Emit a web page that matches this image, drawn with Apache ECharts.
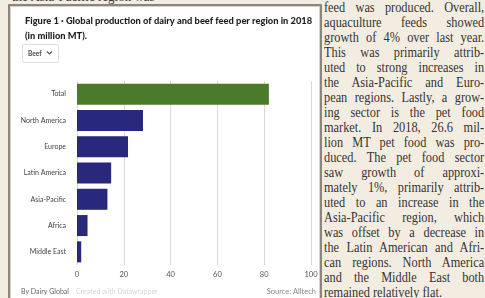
<!DOCTYPE html>
<html>
<head>
<meta charset="utf-8">
<script src="https://cdn.jsdelivr.net/npm/echarts@6/dist/echarts.min.js"></script>
<style>
  html, body { margin:0; padding:0; width:485px; height:298px; overflow:hidden; background:#f3ede1; }
  #page { position:absolute; left:0; top:0; width:485px; height:298px; }
  .serif { font-family:"Liberation Serif","DejaVu Serif",serif; color:#333; }
  #topline { position:absolute; left:12px; top:-11px; width:300px; font-size:13px; }
  #col { position:absolute; left:324px; top:0px; width:182px; line-height:15px; font-size:14px;
         transform: scaleX(0.88); transform-origin: 0 0; }
  #col div { height:15px; white-space:nowrap; text-align:justify; text-align-last:justify; }
  #col div.last { text-align-last:left; }
  #box { position:absolute; left:8px; top:4px; width:310px; height:320px; background:#fff;
         border:2px solid #8d847c; box-shadow: inset 0 0 0 1px #d8d2cb; }
  #chart { position:absolute; left:0; top:0; width:485px; height:298px; }
</style>
</head>
<body>
<div id="page">
  <div id="topline" class="serif">the Asia-Pacific region was</div>
  <div id="box"></div>
  <div id="col" class="serif">
    <div>feed was produced. Overall,</div>
    <div>aquaculture feeds showed</div>
    <div>growth of 4% over last year.</div>
    <div>This was primarily attrib-</div>
    <div>uted to strong increases in</div>
    <div>the Asia-Pacific and Euro-</div>
    <div>pean regions. Lastly, a grow-</div>
    <div>ing sector is the pet food</div>
    <div>market. In 2018, 26.6 mil-</div>
    <div>lion MT pet food was pro-</div>
    <div>duced. The pet food sector</div>
    <div>saw growth of approxi-</div>
    <div>mately 1%, primarily attrib-</div>
    <div>uted to an increase in the</div>
    <div>Asia-Pacific region, which</div>
    <div>was offset by a decrease in</div>
    <div>the Latin American and Afri-</div>
    <div>can regions. North America</div>
    <div>and the Middle East both</div>
    <div class="last">remained relatively flat.</div>
  </div>
  <div id="chart"></div>
</div>
<script>
const categories = ['Total', 'North America', 'Europe', 'Latin America', 'Asia-Pacific', 'Africa', 'Middle East'];
const beefFeed = [82, 28.2, 21.8, 14.6, 13.0, 4.5, 1.8];
const xTicks = [0, 20, 40, 60, 80, 100];

const green = '#4c7a2b';
const navy = '#28287c';
const chart = echarts.init(document.getElementById('chart'), null, {renderer:'canvas'});
chart.setOption({
  backgroundColor: 'transparent',
  animation: false,
  title: {
    text: 'Figure 1 · Global production of dairy and beef feed per region in 2018\n(in million MT).',
    left: 20, top: 8,
    textStyle: { fontFamily: 'Lato', fontWeight: 900, fontSize: 9.3, lineHeight: 15, color: '#1e1e1e' }
  },
  grid: { left: 77, right: 174, top: 81, bottom: 33, containLabel: false },
  xAxis: {
    type: 'value', min: xTicks[0], max: xTicks[xTicks.length-1], interval: xTicks[1]-xTicks[0],
    axisLine: { show: false }, axisTick: { show: false },
    axisLabel: { fontFamily: 'Lato', fontSize: 7.5, color: '#555', margin: 6 },
    splitLine: { show: true, lineStyle: { color: '#d9d9d9', width: 1 } }
  },
  yAxis: {
    type: 'category', data: categories, inverse: true,
    axisLine: { show: false }, axisTick: { show: false },
    axisLabel: { fontFamily: 'Lato', fontSize: 7, color: '#444', margin: 11 }
  },
  series: [{
    type: 'bar',
    data: beefFeed.map((v, i) => ({ value: v, itemStyle: { color: categories[i] === 'Total' ? green : navy } })),
    barCategoryGap: '20%'
  }],
  graphic: [
    { type: 'rect', shape: { x: 22.5, y: 44.5, width: 36, height: 18, r: 2 },
      style: { fill: '#fff', stroke: '#dcdcdc', lineWidth: 1 } },
    { type: 'text', x: 28, y: 53.5, style: { text: 'Beef', fontFamily: 'Lato', fontWeight: 'bold', fontSize: 6.5, fill: '#444', verticalAlign: 'middle' } },
    { type: 'polyline', shape: { points: [[47,51.5],[49.5,54],[52,51.5]] }, style: { stroke: '#555', lineWidth: 1.2, fill: null } },
    { type: 'text', x: 21, y: 292, style: { text: 'By Dairy Global', fontFamily: 'Lato', fontSize: 7, fill: '#666', verticalAlign: 'middle' } },
    { type: 'text', x: 76, y: 292, style: { text: 'Created with Datawrapper', fontFamily: 'Lato', fontSize: 7, fill: '#d6d6d6', verticalAlign: 'middle' } },
    { type: 'text', x: 316, y: 292, style: { text: 'Source: Alltech', fontFamily: 'Lato', fontSize: 7.5, fill: '#888', align: 'right', verticalAlign: 'middle' } }
  ]
});
</script>
</body>
</html>
